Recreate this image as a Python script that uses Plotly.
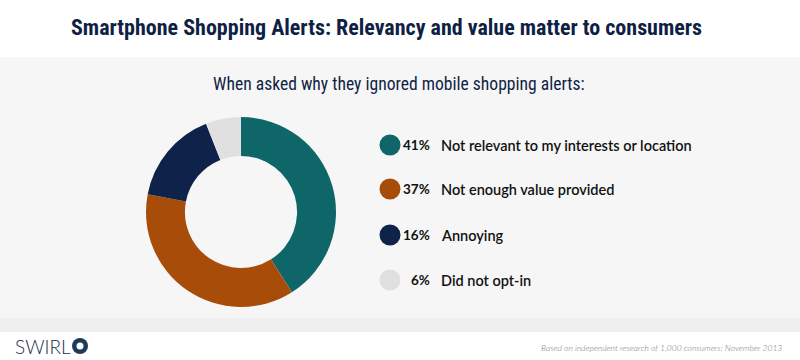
import plotly.graph_objects as go

categories = ["Not relevant to my interests or location", "Not enough value provided", "Annoying", "Did not opt-in"]
values = [41, 37, 16, 6]
colors = ["#0e6668", "#a84c0a", "#0f2249", "#e0e0e0"]

W, H = 800, 360
fig = go.Figure()

fig.add_trace(go.Pie(
    values=values, labels=categories, sort=False, direction="clockwise", rotation=0,
    hole=0.59, marker=dict(colors=colors, line=dict(width=0)), textinfo="none",
    hoverinfo="label+percent", domain=dict(x=[146/W, 336/W], y=[1-307/H, 1-117/H]),
    showlegend=False,
))

leg_y = [145, 189, 235, 280]
fig.add_trace(go.Scatter(
    x=[390]*len(values), y=leg_y, mode="markers",
    marker=dict(size=21, color=colors), showlegend=False, hoverinfo="skip",
))

for v, c, y in zip(values, categories, leg_y):
    fig.add_annotation(x=432, y=y, xref="x", yref="y", text=f"<b>{v}%</b>", showarrow=False,
                       xanchor="right", yanchor="middle", font=dict(family="Lato", size=13.5, color="#111111", weight=900))
    fig.add_annotation(x=439, y=y, xref="x", yref="y", text=c, showarrow=False,
                       xanchor="left", yanchor="middle", font=dict(family="Lato", size=14.5, color="#111111", weight=600))

fig.add_annotation(x=386, y=27, xref="x", yref="y", text="<b>Smartphone Shopping Alerts: Relevancy and value matter to consumers</b>",
                   showarrow=False, xanchor="center", yanchor="middle",
                   font=dict(family="Roboto Condensed", size=22, color="#0f1f45"))
fig.add_annotation(x=399, y=84, xref="x", yref="y", text="When asked why they ignored mobile shopping alerts:",
                   showarrow=False, xanchor="center", yanchor="middle",
                   font=dict(family="Roboto Condensed", size=17.6, color="#0f1f45"))
fig.add_annotation(x=13, y=346, xref="x", yref="y", text="SWIRL",
                   showarrow=False, xanchor="left", yanchor="middle",
                   font=dict(family="Lato", size=19, color="#1c2a48", weight=300))
fig.add_annotation(x=784, y=348, xref="x", yref="y", text="<i>Based on independent research of 1,000 consumers: November 2013</i>",
                   showarrow=False, xanchor="right", yanchor="middle",
                   font=dict(family="Lato", size=8.5, color="#777777", weight=300))

shapes = [
    dict(type="rect", xref="x", yref="y", x0=0, x1=W, y0=57, y1=332, fillcolor="#f6f6f6", line=dict(width=0), layer="below"),
    dict(type="rect", xref="x", yref="y", x0=0, x1=W, y0=318, y1=332, fillcolor="#efefef", line=dict(width=0), layer="below"),
    dict(type="circle", xref="x", yref="y", x0=72, x1=88, y0=338, y1=354, fillcolor="#1c3a5a", line=dict(width=0)),
    dict(type="circle", xref="x", yref="y", x0=76.5, x1=83.5, y0=342.5, y1=349.5, fillcolor="#ffffff", line=dict(width=0)),
]

fig.update_layout(
    width=W, height=H, margin=dict(l=0, r=0, t=0, b=0),
    paper_bgcolor="#ffffff", plot_bgcolor="rgba(0,0,0,0)",
    xaxis=dict(range=[0, W], visible=False, fixedrange=True),
    yaxis=dict(range=[H, 0], visible=False, fixedrange=True),
    shapes=shapes,
)

fig.write_html("out.html", config={"displayModeBar": False},
               post_script="document.body.style.margin='0';document.body.style.padding='0';")
